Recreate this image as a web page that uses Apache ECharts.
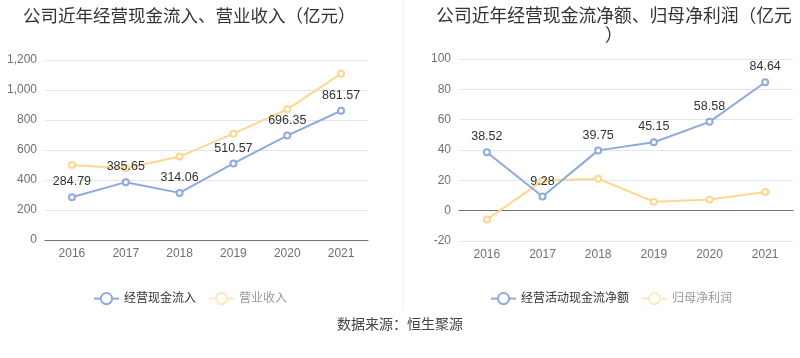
<!DOCTYPE html>
<html><head><meta charset="utf-8">
<script src="https://cdn.jsdelivr.net/npm/echarts@6/dist/echarts.min.js"></script>
<style>html,body{margin:0;padding:0;background:#fff}#c{width:800px;height:358px}</style>
</head><body><div id="c"></div>
<script>
const years = ['2016','2017','2018','2019','2020','2021'];
const cashInflow = [284.79, 385.65, 314.06, 510.57, 696.35, 861.57];
const revenue = [500, 478, 556, 709, 871, 1109];
const netCashFlow = [38.52, 9.28, 39.75, 45.15, 58.58, 84.64];
const netProfit = [-5.9, 19.8, 21.1, 5.9, 7.3, 12.3];
const leftTicks = {min: 0, max: 1200, interval: 200};
const rightTicks = {min: -20, max: 100, interval: 20};

const FONT = '"Liberation Sans", "Noto Sans CJK SC", sans-serif';
const BLUE = '#8eaadc', YELLOW = '#ffd68f', YELLOW_FADE = '#fde8c4';
const chart = echarts.init(document.getElementById('c'));
const axisLabel = {color: '#6e7079', fontSize: 12, fontFamily: FONT};
const splitLine = {lineStyle: {color: '#e0e6f1'}};
function blueSeries(name, data, x, y) {
  return {name, type: 'line', xAxisIndex: x, yAxisIndex: y, data,
    symbol: 'emptyCircle', symbolSize: 6, lineStyle: {width: 2, color: BLUE},
    itemStyle: {color: BLUE}, z: 3,
    label: {show: true, position: 'top', color: '#333', fontSize: 12.5, fontFamily: FONT}};
}
function yellowSeries(name, data, x, y) {
  return {name, type: 'line', xAxisIndex: x, yAxisIndex: y, data,
    symbol: 'emptyCircle', symbolSize: 6, lineStyle: {width: 2, color: YELLOW},
    itemStyle: {color: YELLOW}, z: 2};
}
chart.setOption({
  animation: false,
  textStyle: {fontFamily: FONT},
  title: [
    {text: '公司近年经营现金流入、营业收入（亿元）', left: 18, top: 3,
      textStyle: {fontSize: 17.5, fontWeight: 'normal', color: '#333', fontFamily: FONT}},
    {text: '公司近年经营现金流净额、归母净利润（亿元）', left: 609, top: 3, textAlign: 'center',
      textStyle: {fontSize: 17.8, fontWeight: 'normal', color: '#333', width: 362, overflow: 'break', lineHeight: 19, fontFamily: FONT}}
  ],
  legend: [
    {left: 88, top: 287, itemWidth: 25, itemHeight: 14, itemGap: 12,
      textStyle: {fontSize: 12, color: '#333', fontFamily: FONT},
      data: [{name: '经营现金流入'},
        {name: '营业收入', textStyle: {color: '#999'}, itemStyle: {borderColor: YELLOW_FADE, color: YELLOW_FADE}, lineStyle: {color: YELLOW_FADE}}]},
    {left: 485, top: 287, itemWidth: 25, itemHeight: 14, itemGap: 12,
      textStyle: {fontSize: 12, color: '#333', fontFamily: FONT},
      data: [{name: '经营活动现金流净额'},
        {name: '归母净利润', textStyle: {color: '#999'}, itemStyle: {borderColor: YELLOW_FADE, color: YELLOW_FADE}, lineStyle: {color: YELLOW_FADE}}]}
  ],
  grid: [
    {left: 45, right: 432, top: 60, bottom: 118},
    {left: 459, right: 7, top: 59, bottom: 117}
  ],
  xAxis: [
    {type: 'category', gridIndex: 0, data: years, axisLabel: Object.assign({margin: 8}, axisLabel),
      axisLine: {lineStyle: {color: '#6e7079'}}, axisTick: {alignWithLabel: true, lineStyle: {color: '#6e7079'}}},
    {type: 'category', gridIndex: 1, data: years, position: 'bottom', axisLabel: Object.assign({margin: 8}, axisLabel),
      axisLine: {show: false, onZero: false}, axisTick: {show: false}},
    {type: 'category', gridIndex: 1, data: years, axisLabel: {show: false},
      axisLine: {onZero: true, lineStyle: {color: '#6e7079'}}, axisTick: {alignWithLabel: true, lineStyle: {color: '#6e7079'}}}
  ],
  yAxis: [
    {type: 'value', gridIndex: 0, min: leftTicks.min, max: leftTicks.max, interval: leftTicks.interval,
      axisLabel: Object.assign({formatter: v => v.toLocaleString('en-US')}, axisLabel), splitLine},
    {type: 'value', gridIndex: 1, min: rightTicks.min, max: rightTicks.max, interval: rightTicks.interval,
      axisLabel, splitLine}
  ],
  series: [
    blueSeries('经营现金流入', cashInflow, 0, 0),
    yellowSeries('营业收入', revenue, 0, 0),
    blueSeries('经营活动现金流净额', netCashFlow, 1, 1),
    yellowSeries('归母净利润', netProfit, 1, 1)
  ],
  graphic: [
    {type: 'line', shape: {x1: 403, y1: 0, x2: 403, y2: 310}, style: {stroke: '#eeeeee', lineWidth: 1}},
    {type: 'text', left: 'center', top: 318, style: {text: '数据来源：恒生聚源', fontSize: 14, fill: '#444', fontFamily: FONT}}
  ]
});
</script></body></html>
